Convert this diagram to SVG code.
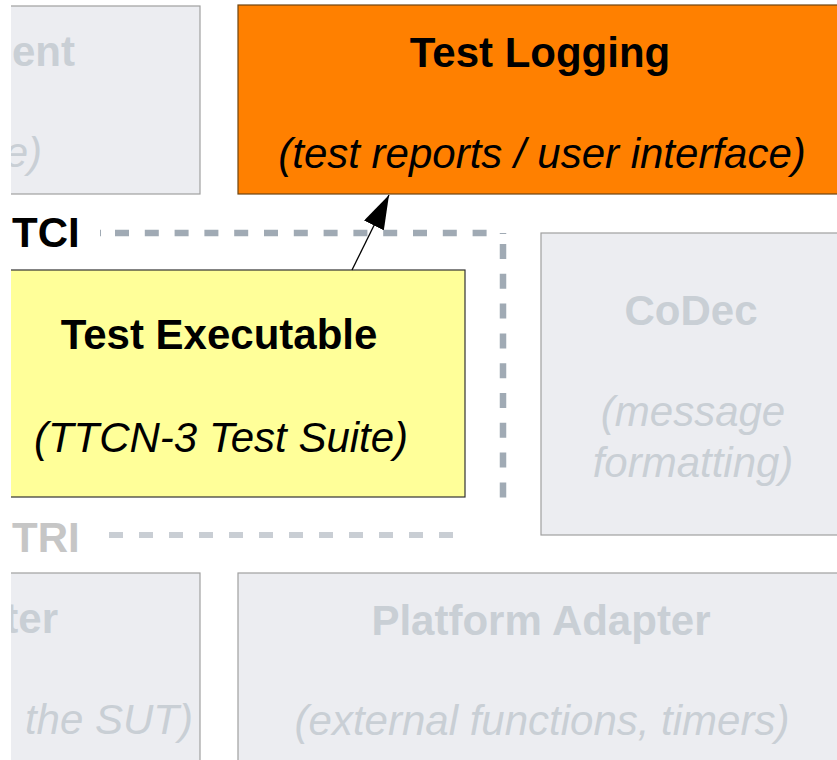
<svg xmlns="http://www.w3.org/2000/svg" width="837" height="760" viewBox="0 0 837 760">
<style>
  .box { fill: #ecedf1; stroke: #a0a0a0; stroke-width: 1.2; }
  .t { font-family: "Liberation Sans", Arial, sans-serif; font-size: 42px; text-anchor: middle; }
  .b { font-weight: bold; }
  .i { font-style: italic; }
  .dim { fill: #c9cfd5; }
  .blk { fill: #000000; }
  .tci { fill: none; stroke: #a0aab4; stroke-width: 6.5; }
  .tri { fill: none; stroke: #c9ced4; stroke-width: 6; }
</style>
<defs>
  <clipPath id="view"><rect x="11" y="0" width="826" height="760"/></clipPath>
  <marker id="ah" markerWidth="34" markerHeight="22" refX="34" refY="11" orient="auto" markerUnits="userSpaceOnUse" viewBox="0 0 34 22">
    <path d="M0,0 L34,11 L0,22 z" fill="#000"/>
  </marker>
</defs>
<rect x="0" y="0" width="837" height="760" fill="#ffffff"/>
<g clip-path="url(#view)">
  <g id="node-test-management">
    <rect class="box" x="-200" y="6" width="400" height="188"/>
    <text class="t b dim" x="75" y="66" style="text-anchor:end">ent</text>
    <text class="t i dim" x="42" y="167" style="text-anchor:end">e)</text>
  </g>
  <g id="node-test-logging">
    <rect x="238" y="5" width="620" height="189" fill="#ff8000" stroke="#6e4410" stroke-width="1.2"/>
    <text class="t b blk" x="540" y="67">Test Logging</text>
    <text class="t i blk" x="542" y="168">(test reports / user interface)</text>
  </g>
  <g id="label-tci">
    <text class="t b blk" x="12" y="247" style="text-anchor:start">TCI</text>
  </g>
  <g id="node-test-executable">
    <rect x="-20" y="270" width="485" height="227" fill="#ffff99" stroke="#333333" stroke-width="1.2"/>
    <text class="t b blk" x="219" y="349">Test Executable</text>
    <text class="t i blk" x="221" y="452">(TTCN-3 Test Suite)</text>
  </g>
  <g id="node-codec">
    <rect class="box" x="541" y="233" width="320" height="302"/>
    <text class="t b dim" x="691" y="325">CoDec</text>
    <text class="t i dim" x="693" y="426">(message</text>
    <text class="t i dim" x="693" y="477">formatting)</text>
  </g>
  <g id="label-tri">
    <text class="t b" x="12" y="552" style="text-anchor:start;fill:#c6c6c6">TRI</text>
  </g>
  <g id="node-sut-adapter">
    <rect class="box" x="-200" y="573" width="400" height="220"/>
    <text class="t b dim" x="58" y="633" style="text-anchor:end">ter</text>
    <text class="t i dim" x="193" y="734" style="text-anchor:end">the SUT)</text>
  </g>
  <g id="node-platform-adapter">
    <rect class="box" x="238" y="573" width="620" height="220"/>
    <text class="t b dim" x="541" y="635">Platform Adapter</text>
    <text class="t i dim" x="542" y="735">(external functions, timers)</text>
  </g>
  <g id="connectors">
    <path class="tci" d="M100,233 H101"/>
    <path class="tci" d="M115,233 H490" stroke-dasharray="14 15.8"/>
    <path class="tci" d="M503,233 V234"/>
    <path class="tci" d="M503,244 V498" stroke-dasharray="15 14.8"/>
    <path class="tri" d="M109,535 H453" stroke-dasharray="14 16"/>
    <line x1="352" y1="270" x2="389" y2="195" stroke="#000" stroke-width="1.3" marker-end="url(#ah)"/>
  </g>
</g>
</svg>
